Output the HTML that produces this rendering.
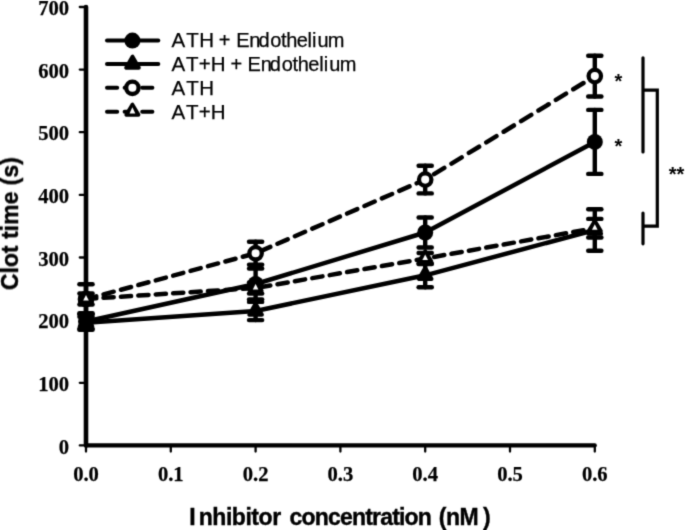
<!DOCTYPE html><html><head><meta charset="utf-8"><style>html,body{margin:0;padding:0;background:#fff;}svg{display:block} text{font-kerning:none}</style></head><body>
<svg width="685" height="530" viewBox="0 0 685 530">
<defs><filter id="b" color-interpolation-filters="sRGB" x="0" y="0" width="685" height="530" filterUnits="userSpaceOnUse"><feConvolveMatrix order="3" kernelMatrix="0.0225 0.105 0.0225 0.105 0.49 0.105 0.0225 0.105 0.0225" edgeMode="duplicate"/></filter></defs>
<rect width="685" height="530" fill="#fff"/>
<g filter="url(#b)">
<g stroke="#000" fill="none" stroke-linecap="round">
<line x1="86.0" y1="7" x2="86.0" y2="445.4" stroke-width="4.6"/>
<line x1="86.0" y1="445.4" x2="594.8" y2="445.4" stroke-width="4.1"/>
<line x1="79.8" y1="445.4" x2="86.0" y2="445.4" stroke-width="2.3"/>
<line x1="79.8" y1="382.8" x2="86.0" y2="382.8" stroke-width="2.3"/>
<line x1="79.8" y1="320.1" x2="86.0" y2="320.1" stroke-width="2.3"/>
<line x1="79.8" y1="257.5" x2="86.0" y2="257.5" stroke-width="2.3"/>
<line x1="79.8" y1="194.9" x2="86.0" y2="194.9" stroke-width="2.3"/>
<line x1="79.8" y1="132.2" x2="86.0" y2="132.2" stroke-width="2.3"/>
<line x1="79.8" y1="69.6" x2="86.0" y2="69.6" stroke-width="2.3"/>
<line x1="79.8" y1="7.0" x2="86.0" y2="7.0" stroke-width="2.3"/>
<line x1="86.0" y1="445.4" x2="86.0" y2="451.6" stroke-width="2.3"/>
<line x1="170.8" y1="445.4" x2="170.8" y2="451.6" stroke-width="2.3"/>
<line x1="255.6" y1="445.4" x2="255.6" y2="451.6" stroke-width="2.3"/>
<line x1="340.4" y1="445.4" x2="340.4" y2="451.6" stroke-width="2.3"/>
<line x1="425.2" y1="445.4" x2="425.2" y2="451.6" stroke-width="2.3"/>
<line x1="510.0" y1="445.4" x2="510.0" y2="451.6" stroke-width="2.3"/>
<line x1="594.8" y1="445.4" x2="594.8" y2="451.6" stroke-width="2.3"/>
</g>
<g font-family="Liberation Serif, serif" font-weight="bold" font-size="20.6" fill="#000" stroke="#000" stroke-width="0.25">
<text x="69.1" y="453.6" text-anchor="end">0</text>
<text x="69.1" y="391.0" text-anchor="end">100</text>
<text x="69.1" y="328.3" text-anchor="end">200</text>
<text x="69.1" y="265.7" text-anchor="end">300</text>
<text x="69.1" y="203.1" text-anchor="end">400</text>
<text x="69.1" y="140.4" text-anchor="end">500</text>
<text x="69.1" y="77.8" text-anchor="end">600</text>
<text x="69.1" y="14.7" text-anchor="end">700</text>
<text x="86.0" y="481.3" text-anchor="middle">0.0</text>
<text x="170.8" y="481.3" text-anchor="middle">0.1</text>
<text x="255.6" y="481.3" text-anchor="middle">0.2</text>
<text x="340.4" y="481.3" text-anchor="middle">0.3</text>
<text x="425.2" y="481.3" text-anchor="middle">0.4</text>
<text x="510.0" y="481.3" text-anchor="middle">0.5</text>
<text x="594.8" y="481.3" text-anchor="middle">0.6</text>
</g>
<g font-family="Liberation Sans, sans-serif" font-weight="bold" font-size="23" fill="#000" stroke="#000" stroke-width="0.4">
<text x="189.3" y="524.6">I</text>
<text x="198.7" y="524.6" textLength="82.4" lengthAdjust="spacing">nhibitor</text>
<text x="289.6" y="524.6" textLength="142.3" lengthAdjust="spacing">concentration</text>
<text x="438.7" y="524.6">(</text>
<text x="445.9" y="524.6" textLength="32.7" lengthAdjust="spacing">nM</text>
<text x="482.9" y="524.6">)</text>
</g>
<text transform="translate(18 223.6) rotate(-90)" text-anchor="middle" font-family="Liberation Sans, sans-serif" font-weight="bold" font-size="23" stroke="#000" stroke-width="0.4">Clot time (s)</text>
<polyline points="86.0,321.5 255.6,284.0 425.2,232.5 594.8,141.9" fill="none" stroke="#000" stroke-width="4.5" stroke-linecap="round" stroke-linejoin="round"/>
<polyline points="86.0,322.8 255.6,311.0 425.2,275.3 594.8,230.0" fill="none" stroke="#000" stroke-width="4.5" stroke-linecap="round" stroke-linejoin="round"/>
<g fill="none" stroke="#000" stroke-width="4.5" stroke-linecap="round"><line x1="86.0" y1="299.2" x2="255.6" y2="253.3" stroke-dasharray="10.57 7.46" stroke-dashoffset="17.92"/><line x1="255.6" y1="253.3" x2="425.2" y2="179.6" stroke-dasharray="11.12 7.85" stroke-dashoffset="14.07"/><line x1="425.2" y1="179.6" x2="594.8" y2="76.1" stroke-dasharray="11.95 8.43" stroke-dashoffset="9.96"/></g>
<g fill="none" stroke="#000" stroke-width="4.5" stroke-linecap="round"><line x1="86.0" y1="299.0" x2="255.6" y2="288.0" stroke-dasharray="10.22 7.22" stroke-dashoffset="17.34"/><line x1="255.6" y1="288.0" x2="425.2" y2="258.5" stroke-dasharray="10.35 7.31" stroke-dashoffset="13.09"/><line x1="425.2" y1="258.5" x2="594.8" y2="228.2" stroke-dasharray="10.36 7.31" stroke-dashoffset="8.63"/></g>
<g stroke="#000" stroke-width="4.4" stroke-linecap="round" fill="none"><line x1="86.0" y1="313.3" x2="86.0" y2="329.7"/><line x1="79.4" y1="313.3" x2="92.6" y2="313.3"/><line x1="79.4" y1="329.7" x2="92.6" y2="329.7"/><line x1="255.6" y1="268.6" x2="255.6" y2="299.4"/><line x1="249.0" y1="268.6" x2="262.2" y2="268.6"/><line x1="249.0" y1="299.4" x2="262.2" y2="299.4"/><line x1="425.2" y1="217.5" x2="425.2" y2="247.5"/><line x1="418.6" y1="217.5" x2="431.8" y2="217.5"/><line x1="418.6" y1="247.5" x2="431.8" y2="247.5"/><line x1="594.8" y1="109.9" x2="594.8" y2="173.9"/><line x1="588.2" y1="109.9" x2="601.4" y2="109.9"/><line x1="588.2" y1="173.9" x2="601.4" y2="173.9"/></g>
<circle cx="86.0" cy="321.5" r="8" fill="#000"/><circle cx="255.6" cy="284.0" r="8" fill="#000"/><circle cx="425.2" cy="232.5" r="8" fill="#000"/><circle cx="594.8" cy="141.9" r="8" fill="#000"/>
<g stroke="#000" stroke-width="4.4" stroke-linecap="round" fill="none"><line x1="86.0" y1="316.8" x2="86.0" y2="328.8"/><line x1="79.4" y1="316.8" x2="92.6" y2="316.8"/><line x1="79.4" y1="328.8" x2="92.6" y2="328.8"/><line x1="255.6" y1="301.9" x2="255.6" y2="320.1"/><line x1="249.0" y1="301.9" x2="262.2" y2="301.9"/><line x1="249.0" y1="320.1" x2="262.2" y2="320.1"/><line x1="425.2" y1="263.4" x2="425.2" y2="287.2"/><line x1="418.6" y1="263.4" x2="431.8" y2="263.4"/><line x1="418.6" y1="287.2" x2="431.8" y2="287.2"/><line x1="594.8" y1="209.3" x2="594.8" y2="250.7"/><line x1="588.2" y1="209.3" x2="601.4" y2="209.3"/><line x1="588.2" y1="250.7" x2="601.4" y2="250.7"/></g>
<polygon points="86.0,315.6 79.7,326.6 92.3,326.6" fill="#000" stroke="#000" stroke-width="4" stroke-linejoin="round"/><polygon points="255.6,303.8 249.3,314.8 261.9,314.8" fill="#000" stroke="#000" stroke-width="4" stroke-linejoin="round"/><polygon points="425.2,268.1 418.9,279.1 431.5,279.1" fill="#000" stroke="#000" stroke-width="4" stroke-linejoin="round"/><polygon points="594.8,222.8 588.5,233.8 601.1,233.8" fill="#000" stroke="#000" stroke-width="4" stroke-linejoin="round"/>
<g stroke="#000" stroke-width="4.4" stroke-linecap="round" fill="none"><line x1="86.0" y1="284.2" x2="86.0" y2="314.2"/><line x1="79.4" y1="284.2" x2="92.6" y2="284.2"/><line x1="79.4" y1="314.2" x2="92.6" y2="314.2"/><line x1="255.6" y1="241.8" x2="255.6" y2="264.8"/><line x1="249.0" y1="241.8" x2="262.2" y2="241.8"/><line x1="249.0" y1="264.8" x2="262.2" y2="264.8"/><line x1="425.2" y1="165.8" x2="425.2" y2="193.4"/><line x1="418.6" y1="165.8" x2="431.8" y2="165.8"/><line x1="418.6" y1="193.4" x2="431.8" y2="193.4"/><line x1="594.8" y1="55.7" x2="594.8" y2="96.5"/><line x1="588.2" y1="55.7" x2="601.4" y2="55.7"/><line x1="588.2" y1="96.5" x2="601.4" y2="96.5"/></g>
<circle cx="86.0" cy="299.2" r="6.2" fill="#fff" stroke="#000" stroke-width="4.3"/><circle cx="255.6" cy="253.3" r="6.2" fill="#fff" stroke="#000" stroke-width="4.3"/><circle cx="425.2" cy="179.6" r="6.2" fill="#fff" stroke="#000" stroke-width="4.3"/><circle cx="594.8" cy="76.1" r="6.2" fill="#fff" stroke="#000" stroke-width="4.3"/>
<g stroke="#000" stroke-width="4.4" stroke-linecap="round" fill="none"><line x1="86.0" y1="293.5" x2="86.0" y2="304.5"/><line x1="79.4" y1="293.5" x2="92.6" y2="293.5"/><line x1="79.4" y1="304.5" x2="92.6" y2="304.5"/><line x1="255.6" y1="282.4" x2="255.6" y2="293.6"/><line x1="249.0" y1="282.4" x2="262.2" y2="282.4"/><line x1="249.0" y1="293.6" x2="262.2" y2="293.6"/><line x1="425.2" y1="253.0" x2="425.2" y2="264.0"/><line x1="418.6" y1="253.0" x2="431.8" y2="253.0"/><line x1="418.6" y1="264.0" x2="431.8" y2="264.0"/><line x1="594.8" y1="218.9" x2="594.8" y2="237.5"/><line x1="588.2" y1="218.9" x2="601.4" y2="218.9"/><line x1="588.2" y1="237.5" x2="601.4" y2="237.5"/></g>
<polygon points="86.0,291.9 80.0,301.9 92.0,301.9" fill="#000" stroke="#000" stroke-width="4" stroke-linejoin="round"/><polygon points="86.0,295.1 83.2,300.5 88.8,300.5" fill="#fff"/><polygon points="255.6,280.9 249.6,290.9 261.6,290.9" fill="#000" stroke="#000" stroke-width="4" stroke-linejoin="round"/><polygon points="255.6,284.1 252.8,289.5 258.4,289.5" fill="#fff"/><polygon points="425.2,251.4 419.2,261.4 431.2,261.4" fill="#000" stroke="#000" stroke-width="4" stroke-linejoin="round"/><polygon points="425.2,254.6 422.4,260.0 428.0,260.0" fill="#fff"/><polygon points="594.8,221.1 588.8,231.1 600.8,231.1" fill="#000" stroke="#000" stroke-width="4" stroke-linejoin="round"/><polygon points="594.8,224.3 592.0,229.7 597.6,229.7" fill="#fff"/>
<g stroke="#000" stroke-width="4.0" stroke-linecap="round" fill="none">
<line x1="107" y1="40.6" x2="158.3" y2="40.6"/>
<line x1="107" y1="63.9" x2="158.3" y2="63.9"/>
<line x1="107" y1="87.8" x2="158.5" y2="87.8" stroke-dasharray="10.2 7.4"/>
<line x1="107" y1="111.8" x2="158.5" y2="111.8" stroke-dasharray="10.2 7.4"/>
</g>
<circle cx="132.4" cy="40.6" r="8" fill="#000"/>
<polygon points="132.5,56.7 126.2,67.7 138.8,67.7" fill="#000" stroke="#000" stroke-width="4" stroke-linejoin="round"/>
<circle cx="132.4" cy="87.8" r="6.2" fill="#fff" stroke="#000" stroke-width="4.3"/>
<polygon points="132.4,104.7 126.4,114.7 138.4,114.7" fill="#000" stroke="#000" stroke-width="4" stroke-linejoin="round"/><polygon points="132.4,107.3 129.5,113.6 135.3,113.6" fill="#fff"/>
<g font-family="Liberation Sans, sans-serif" font-size="20" fill="#000" stroke="#000" stroke-width="0.25">
<text x="171.46 186.35 199.2" y="46.9" font-size="20.5">ATH</text>
<text x="171.46 186.35 199.2" y="94.8" font-size="20.5">ATH</text>
<text x="171.46 185.95 198.85 210.7" y="70.85" font-size="20.5">AT+H</text>
<text x="171.46 185.95 198.85 210.7" y="118.75" font-size="20.5">AT+H</text>
<text x="218.8" y="46.9">+</text><text x="236.36 249.37 258.46 270.36 281.1 286.21 296.75 307.55 312.06 317.5 327.87" y="46.9">Endothelium</text>
<text x="230.5" y="70.85">+</text><text x="247.56 260.63 269.78 281.74 292.54 297.71 308.31 319.17 323.74 329.24 339.67" y="70.85">Endothelium</text>
</g>
<g font-family="Liberation Sans, sans-serif" font-weight="bold" font-size="20" fill="#000">
<text x="614.6" y="88">*</text>
<text x="614.4" y="153">*</text>
<text x="668.8" y="181">**</text>
</g>
<g stroke="#000" stroke-width="3.2" fill="none" stroke-linecap="round" stroke-linejoin="miter">
<line x1="643" y1="57.8" x2="643" y2="152"/>
<line x1="643" y1="213.1" x2="643" y2="243.8"/>
<polyline points="643,90.2 657.3,90.2 657.3,226.2 643,226.2" stroke-linecap="butt"/>
</g>
</g>
</svg></body></html>
